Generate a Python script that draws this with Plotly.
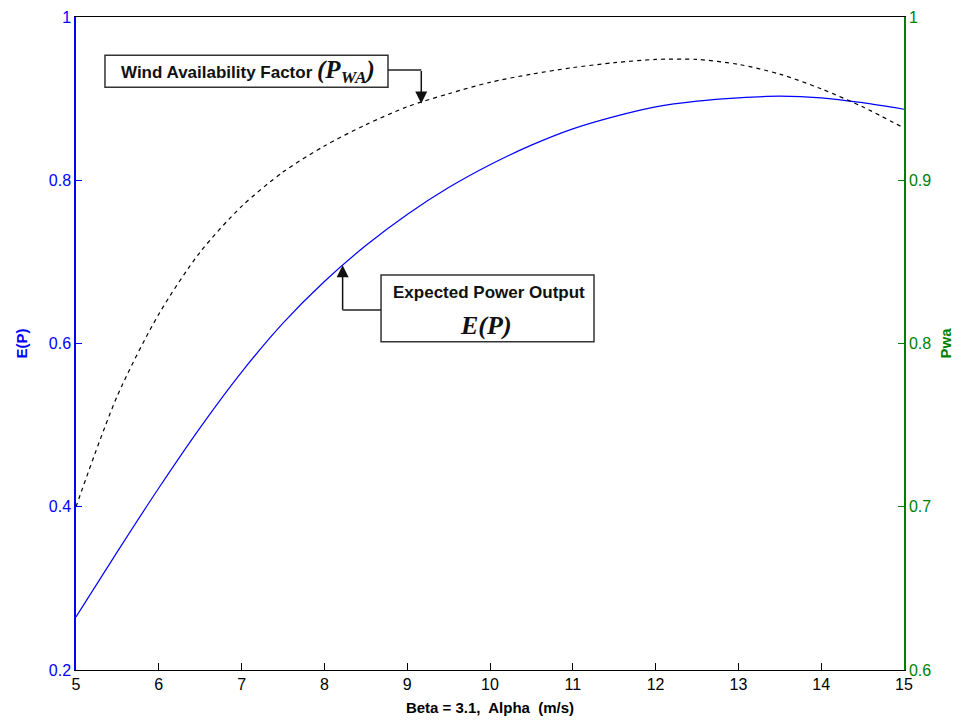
import plotly.graph_objects as go

# ---- data ----
alpha = [5.0, 5.5, 6.0, 6.5, 7.0, 7.5, 8.0, 8.5, 9.0, 9.5, 10.0,
         10.5, 11.0, 11.5, 12.0, 12.5, 13.0, 13.5, 14.0, 14.5, 15.0]
expected_power = [0.265, 0.345, 0.423, 0.497, 0.565, 0.625, 0.676, 0.720, 0.758, 0.791, 0.819,
                  0.843, 0.863, 0.878, 0.890, 0.897, 0.901, 0.903, 0.901, 0.895, 0.887]
pwa = [0.700, 0.768, 0.818, 0.856, 0.884, 0.905, 0.921, 0.934, 0.945, 0.953, 0.960,
       0.965, 0.969, 0.972, 0.974, 0.974, 0.971, 0.965, 0.956, 0.945, 0.932]

x_ticks = [5, 6, 7, 8, 9, 10, 11, 12, 13, 14, 15]
left_ticks = [0.2, 0.4, 0.6, 0.8, 1.0]
left_tick_text = ["0.2", "0.4", "0.6", "0.8", "1"]
right_ticks = [0.6, 0.7, 0.8, 0.9, 1.0]
right_tick_text = ["0.6", "0.7", "0.8", "0.9", "1"]

BLUE = "#0000ff"
GREEN = "#008000"
FONT = "Liberation Sans, Arial, sans-serif"
SERIF_STYLE = "font-family:Liberation Serif, Times New Roman, serif"

fig = go.Figure()
fig.add_trace(go.Scatter(x=alpha, y=expected_power, mode="lines",
                         line=dict(color=BLUE, width=1.2, shape="spline", smoothing=0.8),
                         yaxis="y", showlegend=False))
fig.add_trace(go.Scatter(x=alpha, y=pwa, mode="lines",
                         line=dict(color="black", width=1.2, dash="4px,4px", shape="spline", smoothing=0.8),
                         yaxis="y2", showlegend=False))

fig.update_layout(
    width=959, height=725,
    margin=dict(l=76, r=55, t=17, b=55),
    paper_bgcolor="white", plot_bgcolor="white",
    font=dict(family=FONT, size=16, color="black"),
    xaxis=dict(range=[5, 15], tickvals=x_ticks, ticks="inside", ticklen=7, tickcolor="black",
               showline=True, linecolor="black", linewidth=1, mirror=True, showgrid=False, zeroline=False,
               automargin=False, tickfont=dict(size=16, color="black"),
               title=dict(text="<b>Beta = 3.1,  Alpha  (m/s)</b>", font=dict(size=15), standoff=10)),
    yaxis=dict(range=[0.2, 1.0], tickvals=left_ticks, ticktext=left_tick_text, ticks="inside", ticklen=6,
               tickcolor=BLUE, showline=True, linecolor=BLUE, linewidth=1.5, showgrid=False, zeroline=False,
               automargin=False, tickfont=dict(size=16, color=BLUE),
               title=dict(text="<b>E(P)</b>", font=dict(size=15, color=BLUE), standoff=18)),
    yaxis2=dict(range=[0.6, 1.0], tickvals=right_ticks, ticktext=right_tick_text, overlaying="y", side="right",
                ticks="inside", ticklen=6, tickcolor=GREEN, showline=True, linecolor=GREEN, linewidth=1.5,
                showgrid=False, zeroline=False, automargin=False, tickfont=dict(size=16, color=GREEN),
                title=dict(text="<b>Pwa</b>", font=dict(size=15, color=GREEN), standoff=10)),
)

# ---- annotation boxes (frames as shapes, texts as annotations) ----
fig.add_shape(type="rect", xref="x", yref="y", x0=5.35, x1=8.768, y0=0.914, y1=0.953,
              line=dict(color="#333", width=1.5), fillcolor="white", layer="above")
fig.add_annotation(x=7.077, y=0.933, xref="x", yref="y", showarrow=False,
                   text=("<b>Wind Availability Factor </b>"
                         f"<span style='{SERIF_STYLE};font-size:25px'><b><i>(P<sub>WA</sub>)</i></b></span>"),
                   font=dict(size=17, color="#111"))

fig.add_shape(type="rect", xref="x", yref="y", x0=8.684, x1=11.256, y0=0.602, y1=0.684,
              line=dict(color="#333", width=1.5), fillcolor="white", layer="above")
fig.add_annotation(x=9.988, y=0.662, xref="x", yref="y", showarrow=False,
                   text="<b>Expected Power Output</b>", font=dict(size=17, color="#111"))
fig.add_annotation(x=9.95, y=0.622, xref="x", yref="y", showarrow=False,
                   text=f"<span style='{SERIF_STYLE}'><b><i>E(P)</i></b></span>",
                   font=dict(size=26, color="#111"))

# elbow connectors: horizontal parts as shapes, vertical parts + heads as arrows
fig.add_shape(type="line", xref="x", yref="y", x0=8.768, x1=9.17, y0=0.935, y1=0.935,
              line=dict(color="#222", width=1.5))
fig.add_annotation(x=9.17, y=0.947, xref="x", yref="y2", text="", showarrow=True,
                   ax=0, ay=-34, arrowhead=2, arrowsize=1.6, arrowwidth=1.5, arrowcolor="#111")
fig.add_shape(type="line", xref="x", yref="y", x0=8.22, x1=8.684, y0=0.641, y1=0.641,
              line=dict(color="#222", width=1.5))
fig.add_annotation(x=8.22, y=0.696, xref="x", yref="y", text="", showarrow=True,
                   ax=0, ay=46, arrowhead=2, arrowsize=1.6, arrowwidth=1.5, arrowcolor="#111")

fig.write_html("out.html")
